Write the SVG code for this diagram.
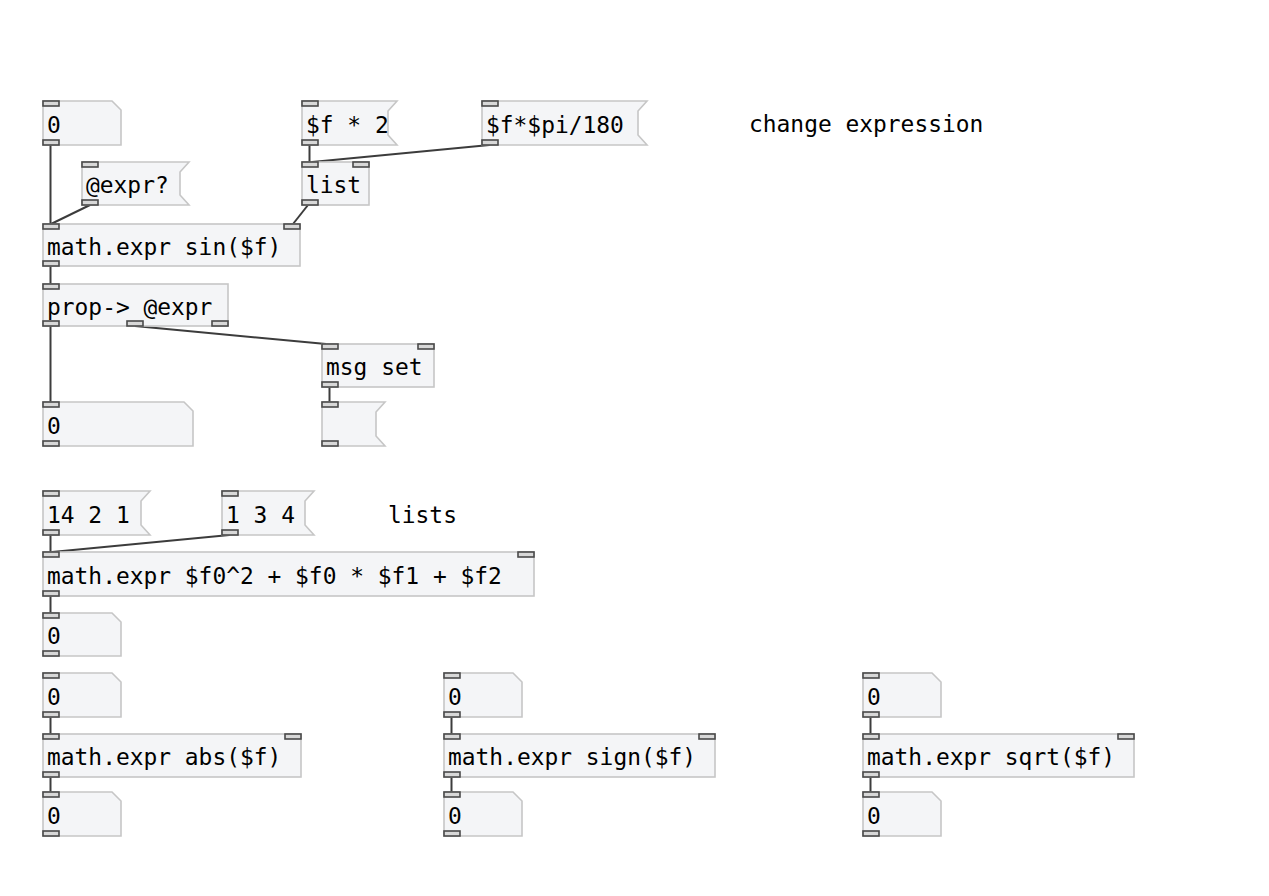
<svg xmlns="http://www.w3.org/2000/svg" width="1269" height="896" viewBox="0 0 1269 896">
<style>
.box{fill:#f4f5f7;stroke:#c6c6c6;stroke-width:1.6}
.io{fill:#d8d8d8;stroke:#4a4a4a;stroke-width:1.6}
.t{font-family:"DejaVu Sans Mono","Liberation Mono",monospace;font-size:22.9px;fill:#000}
.c{fill:none;stroke:#3c3c3c;stroke-width:2;stroke-linecap:butt}
</style>
<rect width="1269" height="896" fill="#ffffff"/>
<g id="connectors">
<line class="c" x1="50.5" y1="145" x2="50.5" y2="224"/>
<line class="c" x1="90" y1="205" x2="51" y2="224"/>
<line class="c" x1="309.5" y1="145" x2="309.5" y2="162"/>
<line class="c" x1="489.5" y1="145" x2="312" y2="162"/>
<line class="c" x1="308" y1="205" x2="293" y2="224"/>
<line class="c" x1="50.5" y1="266" x2="50.5" y2="284"/>
<line class="c" x1="50.5" y1="326" x2="50.5" y2="402"/>
<line class="c" x1="135" y1="326" x2="326" y2="344"/>
<line class="c" x1="329.5" y1="387" x2="329.5" y2="402"/>
<line class="c" x1="50.5" y1="535" x2="50.5" y2="552"/>
<line class="c" x1="229.5" y1="535" x2="52" y2="552"/>
<line class="c" x1="50.5" y1="596" x2="50.5" y2="613"/>
<line class="c" x1="50.5" y1="717" x2="50.5" y2="734"/>
<line class="c" x1="50.5" y1="777" x2="50.5" y2="792"/>
<line class="c" x1="451.5" y1="717" x2="451.5" y2="734"/>
<line class="c" x1="451.5" y1="777" x2="451.5" y2="792"/>
<line class="c" x1="870.5" y1="717" x2="870.5" y2="734"/>
<line class="c" x1="870.5" y1="777" x2="870.5" y2="792"/>
</g>

<g id="num1" transform="translate(43,101)">
<path class="box" d="M0,0H69L78,9V44H0Z"/>
<rect class="io" x="0" y="0" width="16" height="5"/>
<rect class="io" x="0" y="39" width="16" height="5"/>
<text class="t" x="4" y="31.5">0</text>
</g>
<g id="msg_f2" transform="translate(302,101)">
<path class="box" d="M0,0H95L86,10V34L95,44H0Z"/>
<rect class="io" x="0" y="0" width="16" height="5"/>
<rect class="io" x="0" y="39" width="16" height="5"/>
<text class="t" x="4" y="31.5">$f * 2</text>
</g>
<g id="msg_pi" transform="translate(482,101)">
<path class="box" d="M0,0H165L156,10V34L165,44H0Z"/>
<rect class="io" x="0" y="0" width="16" height="5"/>
<rect class="io" x="0" y="39" width="16" height="5"/>
<text class="t" x="4" y="31.5">$f*$pi/180</text>
</g>
<g id="comment1">
<text class="t" x="749" y="132">change expression</text>
</g>
<g id="msg_expr" transform="translate(82,162)">
<path class="box" d="M0,0H107L98,10V33L107,43H0Z"/>
<rect class="io" x="0" y="0" width="16" height="5"/>
<rect class="io" x="0" y="38" width="16" height="5"/>
<text class="t" x="4" y="31">@expr?</text>
</g>
<g id="obj_list" transform="translate(302,162)">
<rect class="box" x="0" y="0" width="67" height="43"/>
<rect class="io" x="0" y="0" width="16" height="5"/>
<rect class="io" x="51" y="0" width="16" height="5"/>
<rect class="io" x="0" y="38" width="16" height="5"/>
<text class="t" x="4" y="31">list</text>
</g>
<g id="obj_sin" transform="translate(43,224)">
<rect class="box" x="0" y="0" width="257" height="42"/>
<rect class="io" x="0" y="0" width="16" height="5"/>
<rect class="io" x="241" y="0" width="16" height="5"/>
<rect class="io" x="0" y="37" width="16" height="5"/>
<text class="t" x="4" y="31">math.expr sin($f)</text>
</g>
<g id="obj_prop" transform="translate(43,284)">
<rect class="box" x="0" y="0" width="185" height="42"/>
<rect class="io" x="0" y="0" width="16" height="5"/>
<rect class="io" x="0" y="37" width="16" height="5"/>
<rect class="io" x="84" y="37" width="16" height="5"/>
<rect class="io" x="169" y="37" width="16" height="5"/>
<text class="t" x="4" y="31">prop-&gt; @expr</text>
</g>
<g id="obj_msgset" transform="translate(322,344)">
<rect class="box" x="0" y="0" width="112" height="43"/>
<rect class="io" x="0" y="0" width="16" height="5"/>
<rect class="io" x="96" y="0" width="16" height="5"/>
<rect class="io" x="0" y="38" width="16" height="5"/>
<text class="t" x="4" y="31">msg set</text>
</g>
<g id="num2" transform="translate(43,402)">
<path class="box" d="M0,0H141L150,9V44H0Z"/>
<rect class="io" x="0" y="0" width="16" height="5"/>
<rect class="io" x="0" y="39" width="16" height="5"/>
<text class="t" x="4" y="31.5">0</text>
</g>
<g id="msg_empty" transform="translate(322,402)">
<path class="box" d="M0,0H63L54,10V34L63,44H0Z"/>
<rect class="io" x="0" y="0" width="16" height="5"/>
<rect class="io" x="0" y="39" width="16" height="5"/>
</g>
<g id="msg_1421" transform="translate(43,491)">
<path class="box" d="M0,0H107L98,10V34L107,44H0Z"/>
<rect class="io" x="0" y="0" width="16" height="5"/>
<rect class="io" x="0" y="39" width="16" height="5"/>
<text class="t" x="4" y="31.5">14 2 1</text>
</g>
<g id="msg_134" transform="translate(222,491)">
<path class="box" d="M0,0H92L83,10V34L92,44H0Z"/>
<rect class="io" x="0" y="0" width="16" height="5"/>
<rect class="io" x="0" y="39" width="16" height="5"/>
<text class="t" x="4" y="31.5">1 3 4</text>
</g>
<g id="comment2">
<text class="t" x="388" y="522.5">lists</text>
</g>
<g id="obj_big" transform="translate(43,552)">
<rect class="box" x="0" y="0" width="491" height="44"/>
<rect class="io" x="0" y="0" width="16" height="5"/>
<rect class="io" x="475" y="0" width="16" height="5"/>
<rect class="io" x="0" y="39" width="16" height="5"/>
<text class="t" x="4" y="31.5">math.expr $f0^2 + $f0 * $f1 + $f2</text>
</g>
<g id="num3" transform="translate(43,613)">
<path class="box" d="M0,0H69L78,9V43H0Z"/>
<rect class="io" x="0" y="0" width="16" height="5"/>
<rect class="io" x="0" y="38" width="16" height="5"/>
<text class="t" x="4" y="31">0</text>
</g>

<g id="num_abs_in" transform="translate(43,673)">
<path class="box" d="M0,0H69L78,9V44H0Z"/>
<rect class="io" x="0" y="0" width="16" height="5"/>
<rect class="io" x="0" y="39" width="16" height="5"/>
<text class="t" x="4" y="31.5">0</text>
</g>
<g id="num_sign_in" transform="translate(444,673)">
<path class="box" d="M0,0H69L78,9V44H0Z"/>
<rect class="io" x="0" y="0" width="16" height="5"/>
<rect class="io" x="0" y="39" width="16" height="5"/>
<text class="t" x="4" y="31.5">0</text>
</g>
<g id="num_sqrt_in" transform="translate(863,673)">
<path class="box" d="M0,0H69L78,9V44H0Z"/>
<rect class="io" x="0" y="0" width="16" height="5"/>
<rect class="io" x="0" y="39" width="16" height="5"/>
<text class="t" x="4" y="31.5">0</text>
</g>

<g id="obj_abs" transform="translate(43,734)">
<rect class="box" x="0" y="0" width="258" height="43"/>
<rect class="io" x="0" y="0" width="16" height="5"/>
<rect class="io" x="242" y="0" width="16" height="5"/>
<rect class="io" x="0" y="38" width="16" height="5"/>
<text class="t" x="4" y="31">math.expr abs($f)</text>
</g>
<g id="obj_sign" transform="translate(444,734)">
<rect class="box" x="0" y="0" width="271" height="43"/>
<rect class="io" x="0" y="0" width="16" height="5"/>
<rect class="io" x="255" y="0" width="16" height="5"/>
<rect class="io" x="0" y="38" width="16" height="5"/>
<text class="t" x="4" y="31">math.expr sign($f)</text>
</g>
<g id="obj_sqrt" transform="translate(863,734)">
<rect class="box" x="0" y="0" width="271" height="43"/>
<rect class="io" x="0" y="0" width="16" height="5"/>
<rect class="io" x="255" y="0" width="16" height="5"/>
<rect class="io" x="0" y="38" width="16" height="5"/>
<text class="t" x="4" y="31">math.expr sqrt($f)</text>
</g>

<g id="num_abs_out" transform="translate(43,792)">
<path class="box" d="M0,0H69L78,9V44H0Z"/>
<rect class="io" x="0" y="0" width="16" height="5"/>
<rect class="io" x="0" y="39" width="16" height="5"/>
<text class="t" x="4" y="31.5">0</text>
</g>
<g id="num_sign_out" transform="translate(444,792)">
<path class="box" d="M0,0H69L78,9V44H0Z"/>
<rect class="io" x="0" y="0" width="16" height="5"/>
<rect class="io" x="0" y="39" width="16" height="5"/>
<text class="t" x="4" y="31.5">0</text>
</g>
<g id="num_sqrt_out" transform="translate(863,792)">
<path class="box" d="M0,0H69L78,9V44H0Z"/>
<rect class="io" x="0" y="0" width="16" height="5"/>
<rect class="io" x="0" y="39" width="16" height="5"/>
<text class="t" x="4" y="31.5">0</text>
</g>
</svg>
